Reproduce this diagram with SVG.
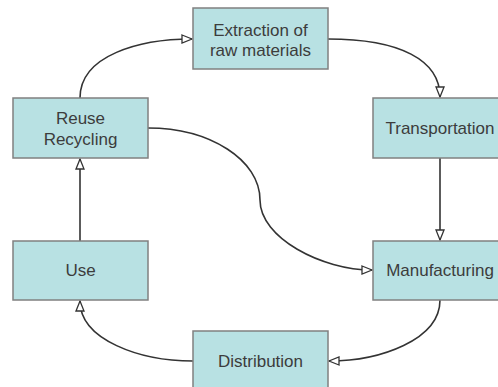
<svg xmlns="http://www.w3.org/2000/svg" width="498" height="387" viewBox="0 0 498 387">
<style>
.box{fill:#b8e1e3;stroke:#808080;stroke-width:1.5}
.lbl{font-family:"Liberation Sans",Arial,sans-serif;font-size:17px;fill:#3c3c3c;text-anchor:middle}
.con{fill:none;stroke:#333;stroke-width:1.6}
</style>
<defs>
<marker id="ah" viewBox="0 0 12 10" refX="11" refY="5" markerWidth="12" markerHeight="10" markerUnits="userSpaceOnUse" orient="auto">
<path d="M1,1 L11,5 L1,9 Z" fill="#fff" stroke="#333" stroke-width="1.3"/>
</marker>
</defs>
<rect width="498" height="387" fill="#fff"/>
<g id="connectors">
<path class="con" d="M80,98 C80,55 140,39 192,39" marker-end="url(#ah)"/>
<path class="con" d="M328,39 C400,39 440,60 440,97" marker-end="url(#ah)"/>
<path class="con" d="M440,158 L440,240" marker-end="url(#ah)"/>
<path class="con" d="M440,300 C440,340 380,361 329,361" marker-end="url(#ah)"/>
<path class="con" d="M193,361 C140,361 80,340 80,301" marker-end="url(#ah)"/>
<path class="con" d="M80,241 L80,159" marker-end="url(#ah)"/>
<path class="con" d="M148,128 C210,128 260,160 260,200 C260,238 322,270 372,270" marker-end="url(#ah)"/>
</g>
<g id="extraction">
<rect class="box" x="193" y="8" width="135" height="61"/>
<text class="lbl" x="260.5" y="36">Extraction of</text>
<text class="lbl" x="260.5" y="56">raw materials</text>
</g>
<g id="transportation">
<rect class="box" x="373" y="98" width="135" height="60"/>
<text class="lbl" x="440" y="134">Transportation</text>
</g>
<g id="manufacturing">
<rect class="box" x="373" y="241" width="135" height="59"/>
<text class="lbl" x="440" y="276">Manufacturing</text>
</g>
<g id="distribution">
<rect class="box" x="193" y="331" width="135" height="61"/>
<text class="lbl" x="260.5" y="367">Distribution</text>
</g>
<g id="use">
<rect class="box" x="13" y="241" width="135" height="59"/>
<text class="lbl" x="80.5" y="276">Use</text>
</g>
<g id="reuse">
<rect class="box" x="13" y="98" width="135" height="60"/>
<text class="lbl" x="80.5" y="124">Reuse</text>
<text class="lbl" x="80.5" y="145">Recycling</text>
</g>
</svg>
